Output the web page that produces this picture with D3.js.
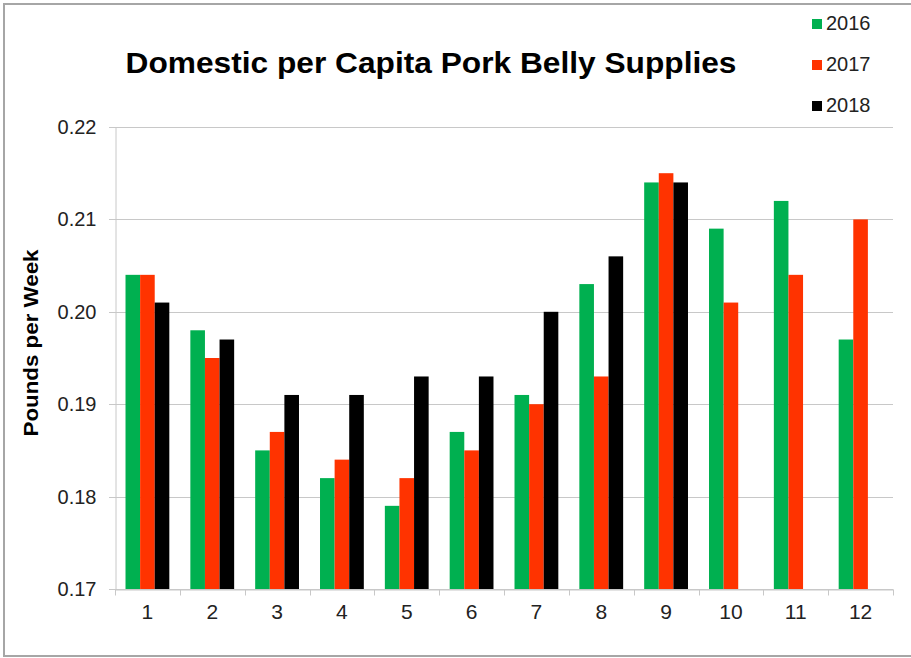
<!DOCTYPE html>
<html>
<head>
<meta charset="utf-8">
<script src="https://cdn.jsdelivr.net/npm/d3@7"></script>
<style>
  body { margin: 0; background: #fff; }
  text { font-family: "Liberation Sans", Arial, sans-serif; }
</style>
</head>
<body>
<svg id="chart" width="911" height="658"></svg>
<script>
// week-of-month categories
let categories = ['1', '2', '3', '4', '5', '6', '7', '8', '9', '10', '11', '12'];
let years = ['2016', '2017', '2018'];
let colors = ['#00b050', '#ff3300', '#000000'];
let v2016 = [0.204, 0.198, 0.185, 0.182, 0.179, 0.187, 0.191, 0.203, 0.214, 0.209, 0.212, 0.197];
let v2017 = [0.204, 0.195, 0.187, 0.184, 0.182, 0.185, 0.190, 0.193, 0.215, 0.201, 0.204, 0.210];
let v2018 = [0.201, 0.197, 0.191, 0.191, 0.193, 0.193, 0.200, 0.206, 0.214, null, null, null];
let yTicks = [0.17, 0.18, 0.19, 0.20, 0.21, 0.22];

let series = [v2016, v2017, v2018];

let svg = d3.select('svg');
let margin = {left: 115, right: 18, top: 127, bottom: 69};
let W = +svg.attr('width'), H = +svg.attr('height');

// outer frame
svg.append('rect')
	.attr('x', 4).attr('y', 4)
	.attr('width', W + 10).attr('height', H - 6)
	.attr('fill', 'none')
	.attr('stroke', '#a6a6a6')
	.attr('stroke-width', 2);

let x = d3.scaleBand()
	.domain(categories)
	.range([margin.left, W - margin.right]);
let xs = d3.scaleBand()
	.domain(years)
	.range([0, x.bandwidth()])
	.paddingInner(0)
	.paddingOuter(0.72);
let y = d3.scaleLinear()
	.domain([0.17, 0.22])
	.range([H - margin.bottom, margin.top]);

// gridlines
svg.append('g')
	.selectAll('line')
	.data(yTicks)
	.enter()
	.append('line')
	.attr('x1', margin.left - 6)
	.attr('x2', W - margin.right)
	.attr('y1', d => Math.round(y(d)) + 0.5)
	.attr('y2', d => Math.round(y(d)) + 0.5)
	.attr('stroke', '#c8c8c8');

// bars
let groups = svg.append('g')
	.selectAll('g')
	.data(series)
	.enter()
	.append('g')
	.attr('fill', (d, i) => colors[i]);

groups.each(function (vals, si) {
	d3.select(this).selectAll('rect')
		.data(vals.map((v, i) => ({cat: categories[i], v: v})).filter(d => d.v != null))
		.enter()
		.append('rect')
		.attr('x', d => x(d.cat) + xs(years[si]))
		.attr('width', xs.bandwidth())
		.attr('y', d => y(d.v))
		.attr('height', d => y(0.17) - y(d.v));
});

// y axis
let yAxis = svg.append('g')
	.attr('transform', 'translate(' + (margin.left + 0.5) + ',0)')
	.call(d3.axisLeft(y).tickValues(yTicks).tickSize(0).tickPadding(19)
		.tickFormat(d => d.toFixed(2)));
yAxis.select('.domain').attr('stroke', '#c8c8c8');
yAxis.selectAll('text').attr('font-size', 20).attr('fill', '#222')
	.attr('font-family', '"Liberation Sans", Arial, sans-serif');

// x axis
let xAxis = svg.append('g')
	.attr('transform', 'translate(0,' + (Math.round(y(0.17)) + 0.5) + ')')
	.call(d3.axisBottom(x).tickSize(0).tickPadding(15));
xAxis.select('.domain').attr('stroke', '#c8c8c8');
xAxis.selectAll('text').attr('font-size', 21).attr('fill', '#222')
	.attr('font-family', '"Liberation Sans", Arial, sans-serif');
// ticks between categories
xAxis.append('g')
	.selectAll('line')
	.data(categories.concat(['end']))
	.enter()
	.append('line')
	.attr('x1', (d, i) => Math.round(margin.left + i * x.step()) + 0.5)
	.attr('x2', (d, i) => Math.round(margin.left + i * x.step()) + 0.5)
	.attr('y1', 0)
	.attr('y2', 6)
	.attr('stroke', '#c8c8c8');

// title
svg.append('text')
	.attr('x', 431)
	.attr('y', 73)
	.attr('text-anchor', 'middle')
	.attr('font-size', 30)
	.attr('font-weight', 'bold')
	.attr('fill', '#000')
	.attr('textLength', 611)
	.attr('lengthAdjust', 'spacingAndGlyphs')
	.text('Domestic per Capita Pork Belly Supplies');

// y label
svg.append('text')
	.attr('transform', 'translate(38,343) rotate(-90)')
	.attr('text-anchor', 'middle')
	.attr('font-size', 21)
	.attr('font-weight', 'bold')
	.attr('textLength', 187)
	.attr('lengthAdjust', 'spacingAndGlyphs')
	.text('Pounds per Week');

// legend
let legend = svg.append('g')
	.selectAll('g')
	.data(years)
	.enter()
	.append('g')
	.attr('transform', (d, i) => 'translate(812,' + (30 + i * 41) + ')');
legend.append('rect')
	.attr('x', 0).attr('y', -11)
	.attr('width', 10).attr('height', 10)
	.attr('fill', (d, i) => colors[i]);
legend.append('text')
	.attr('x', 14)
	.attr('y', 0)
	.attr('font-size', 20)
	.attr('fill', '#222')
	.text(d => d);
</script>
</body>
</html>
